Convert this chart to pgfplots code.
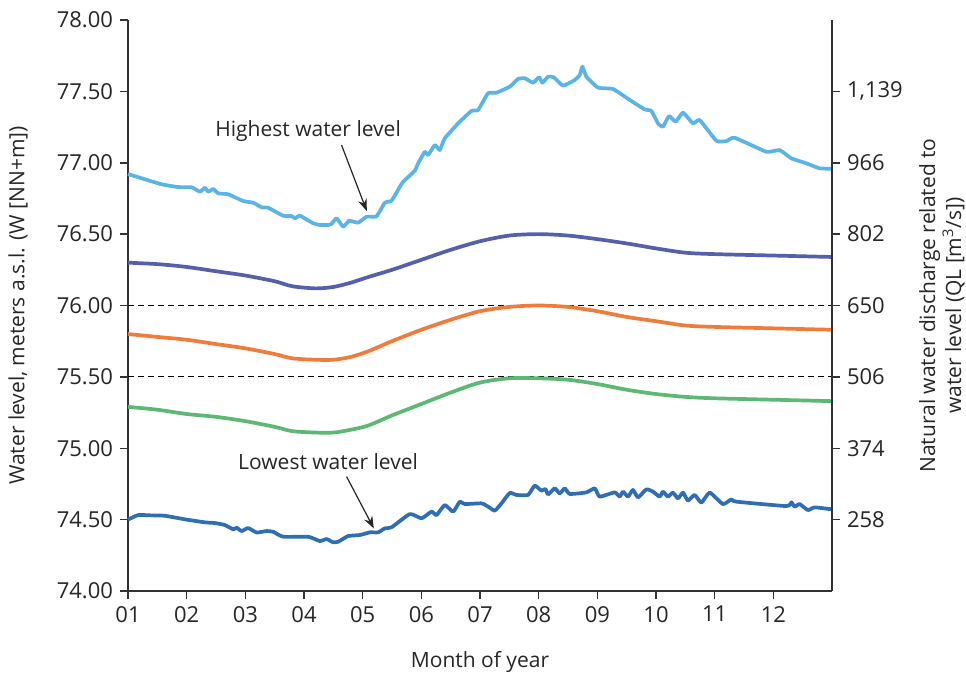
\documentclass[border=0pt]{standalone}
\usepackage{fontspec}
\setmainfont{Open Sans}
\usepackage{pgfplots}
\usepackage{pgfplotstable}
\pgfplotsset{compat=1.18}
\usetikzlibrary{arrows.meta}

\definecolor{cHigh}{HTML}{5AB4E5}
\definecolor{cPurple}{HTML}{5560AC}
\definecolor{cOrange}{HTML}{F07C3C}
\definecolor{cGreen}{HTML}{5CB873}
\definecolor{cLow}{HTML}{2F6EB4}
\definecolor{cText}{HTML}{262626}

\pgfplotstableread{
x y
1.000 76.921
1.290 76.884
1.574 76.849
1.852 76.830
2.085 76.828
2.227 76.797
2.312 76.825
2.368 76.797
2.453 76.816
2.538 76.786
2.709 76.779
2.964 76.732
3.135 76.720
3.278 76.688
3.390 76.685
3.646 76.629
3.789 76.627
3.845 76.611
3.930 76.629
4.157 76.576
4.271 76.564
4.412 76.564
4.470 76.571
4.555 76.611
4.668 76.552
4.770 76.594
4.923 76.580
5.067 76.622
5.237 76.625
5.378 76.720
5.492 76.734
5.634 76.832
5.690 76.867
5.889 76.944
5.946 76.996
6.060 77.077
6.116 77.054
6.230 77.124
6.315 77.089
6.400 77.171
6.627 77.276
6.855 77.363
6.968 77.370
7.138 77.487
7.281 77.491
7.508 77.533
7.649 77.587
7.763 77.592
7.905 77.561
8.007 77.599
8.065 77.561
8.160 77.603
8.257 77.599
8.416 77.540
8.615 77.580
8.700 77.615
8.746 77.673
8.814 77.603
9.012 77.526
9.268 77.517
9.552 77.440
9.808 77.374
9.922 77.363
10.034 77.276
10.119 77.253
10.222 77.327
10.336 77.288
10.460 77.351
10.630 77.276
10.745 77.299
11.029 77.154
11.199 77.152
11.341 77.175
11.881 77.077
12.107 77.089
12.307 77.031
12.562 76.996
12.789 76.961
13.000 76.958
}\highest

\pgfplotstableread{
x y
1.0 76.30
1.5 76.29
2.0 76.27
2.5 76.24
3.0 76.21
3.5 76.17
3.8 76.135
4.2 76.12
4.5 76.13
4.8 76.16
5.1 76.20
5.5 76.25
6.0 76.32
6.5 76.39
7.0 76.45
7.5 76.49
8.0 76.50
8.5 76.49
9.0 76.465
9.5 76.435
10.0 76.40
10.5 76.37
11.0 76.36
12.0 76.35
13.0 76.34
}\purple

\pgfplotstableread{
x y
1.0 75.80
1.5 75.78
2.0 75.76
2.5 75.73
3.0 75.70
3.5 75.66
3.8 75.63
4.2 75.62
4.5 75.62
4.8 75.64
5.1 75.68
5.5 75.75
6.0 75.83
6.5 75.90
7.0 75.96
7.5 75.99
8.0 76.00
8.5 75.99
9.0 75.96
9.5 75.92
10.0 75.89
10.5 75.86
11.0 75.85
12.0 75.84
13.0 75.83
}\orange

\pgfplotstableread{
x y
1.0 75.29
1.5 75.27
2.0 75.24
2.5 75.22
3.0 75.19
3.5 75.15
3.8 75.12
4.2 75.11
4.5 75.11
4.8 75.13
5.1 75.16
5.5 75.23
6.0 75.31
6.5 75.39
7.0 75.46
7.5 75.49
8.0 75.49
8.5 75.48
9.0 75.45
9.5 75.41
10.0 75.38
10.5 75.36
11.0 75.35
12.0 75.34
13.0 75.33
}\green

\pgfplotstableread{
x y
1.000 74.500
1.175 74.532
1.375 74.530
1.630 74.527
1.971 74.502
2.312 74.481
2.482 74.476
2.652 74.462
2.794 74.432
2.852 74.443
2.937 74.420
3.049 74.441
3.192 74.410
3.363 74.420
3.475 74.415
3.646 74.380
4.071 74.380
4.271 74.350
4.385 74.364
4.497 74.341
4.583 74.345
4.753 74.385
4.952 74.392
5.123 74.411
5.264 74.411
5.378 74.439
5.492 74.446
5.804 74.539
6.003 74.509
6.174 74.556
6.259 74.532
6.400 74.602
6.542 74.556
6.656 74.626
6.741 74.609
7.026 74.614
7.138 74.591
7.252 74.563
7.366 74.614
7.508 74.687
7.622 74.673
7.819 74.673
7.933 74.738
8.047 74.703
8.116 74.715
8.160 74.677
8.274 74.719
8.359 74.684
8.445 74.719
8.530 74.680
8.814 74.691
8.956 74.719
9.041 74.661
9.296 74.691
9.382 74.661
9.438 74.696
9.523 74.661
9.608 74.708
9.693 74.656
9.836 74.712
9.949 74.696
10.063 74.661
10.119 74.696
10.204 74.661
10.289 74.689
10.375 74.649
10.460 74.689
10.545 74.633
10.659 74.673
10.773 74.619
10.915 74.689
11.141 74.609
11.284 74.642
11.369 74.626
12.221 74.595
12.307 74.621
12.363 74.591
12.448 74.609
12.590 74.567
12.704 74.586
12.959 74.574
13.000 74.574
}\lowest

\begin{document}
\begin{tikzpicture}
\pgfplotsset{
  base/.style={
    scale only axis, width=352pt, height=285.5pt,
    at={(0,0)}, anchor=south west,
    xmin=1, xmax=13, ymin=74, ymax=78,
    axis line style={black!80, line width=0.75pt},
    tick style={black!80, line width=0.75pt},
    tick align=outside, major tick length=4pt,
    tick label style={font=\fontsize{11}{13}\selectfont, text=cText},
    label style={font=\fontsize{10.5}{13}\selectfont, text=cText},
    /pgf/number format/assume math mode=true,
  },
}
\begin{axis}[base,
  axis x line*=bottom, axis y line*=left,
  xtick={1,2,3,4,5,6,7,8,9,10,11,12},
  xticklabels={01,02,03,04,05,06,07,08,09,10,11,12},
  ytick={74,74.5,75,75.5,76,76.5,77,77.5,78},
  yticklabel style={/pgf/number format/fixed, /pgf/number format/fixed zerofill, /pgf/number format/precision=2},
  xlabel={Month of year},
  ylabel={Water level, meters a.s.l. (W [NN+m])},
  xlabel style={at={(axis description cs:0.5,-0.124)}, anchor=center},
  ylabel style={at={(axis description cs:-0.156,0.5)}, anchor=center},
  clip=false,
]
\addplot[black, line width=0.6pt, dash pattern=on 3pt off 2pt] coordinates {(1,76) (13,76)};
\addplot[black, line width=0.6pt, dash pattern=on 3pt off 2pt] coordinates {(1,75.5) (13,75.5)};
\addplot[cHigh, line width=1.85pt, line join=round, smooth, tension=0.25] table {\highest};
\addplot[cPurple, line width=1.85pt, smooth] table {\purple};
\addplot[cOrange, line width=1.85pt, smooth] table {\orange};
\addplot[cGreen, line width=1.85pt, smooth] table {\green};
\addplot[cLow, line width=1.85pt, line join=round, smooth, tension=0.3] table {\lowest};

\node[font=\fontsize{10.5}{13}\selectfont, text=cText] at (axis cs:4.07,77.222) {Highest water level};
\draw[black!85, line width=0.6pt, -{Stealth[length=6pt,width=4.5pt]}] (axis cs:4.64,77.124) -- (axis cs:5.07,76.662);
\node[font=\fontsize{10.5}{13}\selectfont, text=cText] at (axis cs:4.41,74.904) {Lowest water level};
\draw[black!85, line width=0.6pt, -{Stealth[length=6pt,width=4.5pt]}] (axis cs:4.726,74.801) -- (axis cs:5.19,74.439);
\end{axis}
\begin{axis}[base,
  axis y line*=right, axis x line=none,
  ytick={74.5,75,75.5,76,76.5,77,77.5},
  yticklabels={258,374,506,650,802,966,{1,139}},
  ylabel={Natural water discharge related to\\water level (QL [m\textsuperscript{3}/s])},
  ylabel style={at={(axis description cs:1.156,0.5)}, anchor=center, align=center},
]
\addplot[draw=none] coordinates {(1,74) (13,78)};
\end{axis}
\pgfresetboundingbox
\path (-64pt,-43pt) rectangle (419pt,295.5pt);
\end{tikzpicture}
\end{document}
